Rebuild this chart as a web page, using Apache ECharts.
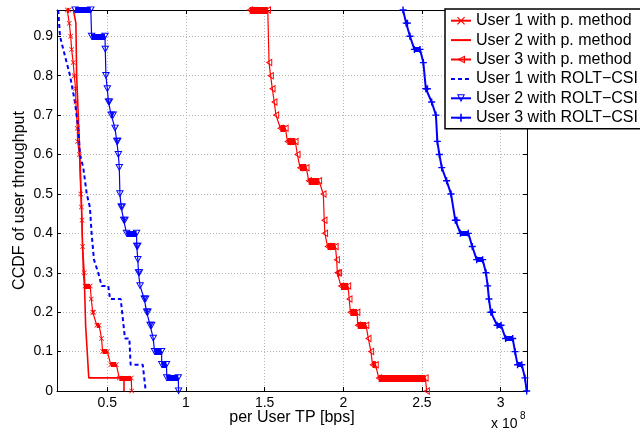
<!DOCTYPE html>
<html>
<head>
<meta charset="utf-8">
<script src="https://cdn.jsdelivr.net/npm/echarts@6/dist/echarts.min.js"></script>
<style>
html, body { margin: 0; padding: 0; background: #fff; }
#chart { width: 640px; height: 430px; }
</style>
</head>
<body>
<div id="chart"></div>
<script>
// throughput in units of 1e8 bps, CCDF value
const xTicks = [0.5, 1, 1.5, 2, 2.5, 3];
const seriesNames = [
    'User 1 with p. method',
    'User 2 with p. method',
    'User 3 with p. method',
    'User 1 with ROLT\u2212CSI',
    'User 2 with ROLT\u2212CSI',
    'User 3 with ROLT\u2212CSI'
];

const user1P = [
    [0.245, 0.9667], [0.256, 0.9667], [0.258, 0.9333], [0.267, 0.9], [0.273, 0.8667],
    [0.283, 0.8333], [0.290, 0.8], [0.298, 0.7667], [0.300, 0.7333], [0.309, 0.6667],
    [0.311, 0.6333], [0.322, 0.6], [0.331, 0.5], [0.335, 0.4667], [0.339, 0.4333],
    [0.343, 0.3667], [0.354, 0.3], [0.358, 0.2667], [0.391, 0.2667], [0.398, 0.2333],
    [0.407, 0.2], [0.413, 0.2], [0.433, 0.1667], [0.448, 0.1667], [0.463, 0.1333],
    [0.470, 0.1], [0.500, 0.1], [0.522, 0.0667], [0.557, 0.0667], [0.576, 0.0333],
    [0.652, 0.0333], [0.655, 0]
];
const user2P = [
    [0.284, 0.9667], [0.300, 0.9333], [0.305, 0.8], [0.315, 0.7], [0.325, 0.6],
    [0.334, 0.5], [0.340, 0.4], [0.348, 0.3], [0.355, 0.2667], [0.362, 0.1667],
    [0.382, 0.0333], [0.606, 0.0333], [0.606, 0]
];
const user3P = [
    [1.405, 0.9667], [1.520, 0.9667], [1.528, 0.8333], [1.538, 0.8], [1.549, 0.7667],
    [1.561, 0.7333], [1.572, 0.7], [1.600, 0.6667], [1.632, 0.6667], [1.645, 0.6333],
    [1.695, 0.6333], [1.708, 0.6], [1.725, 0.5667], [1.765, 0.5667], [1.780, 0.5333],
    [1.845, 0.5333], [1.873, 0.5], [1.879, 0.4333], [1.883, 0.4], [1.900, 0.3667],
    [1.950, 0.3667], [1.958, 0.3333], [1.962, 0.3], [1.972, 0.3], [1.985, 0.2667],
    [2.030, 0.2667], [2.038, 0.2333], [2.045, 0.2], [2.088, 0.2], [2.092, 0.1667],
    [2.145, 0.1667], [2.159, 0.1333], [2.176, 0.1], [2.186, 0.0667], [2.205, 0.0667],
    [2.225, 0.0333], [2.522, 0.0333], [2.530, 0]
];
const user1R = [
    [0.188, 0.9667], [0.199, 0.9], [0.220, 0.8667], [0.263, 0.8], [0.294, 0.7333],
    [0.315, 0.6667], [0.326, 0.6], [0.347, 0.5667], [0.369, 0.5], [0.389, 0.4667],
    [0.400, 0.4], [0.415, 0.3333], [0.442, 0.3], [0.464, 0.2667], [0.506, 0.2667],
    [0.517, 0.2333], [0.585, 0.2333], [0.612, 0.1333], [0.640, 0.1333], [0.648, 0.0667],
    [0.725, 0.0667], [0.744, 0]
];
const user2R = [
    [0.295, 0.9667], [0.395, 0.9667], [0.400, 0.9], [0.485, 0.9], [0.487, 0.8667],
    [0.491, 0.8], [0.500, 0.7667], [0.507, 0.7333], [0.513, 0.7333], [0.525, 0.7],
    [0.537, 0.7], [0.549, 0.6667], [0.560, 0.6333], [0.566, 0.6333], [0.570, 0.6],
    [0.576, 0.5667], [0.580, 0.5], [0.588, 0.4667], [0.594, 0.4667], [0.604, 0.4333],
    [0.612, 0.4333], [0.622, 0.4], [0.686, 0.4], [0.687, 0.3667], [0.693, 0.3667],
    [0.694, 0.3333], [0.698, 0.3], [0.704, 0.3], [0.708, 0.2667], [0.735, 0.2333],
    [0.743, 0.2333], [0.750, 0.2], [0.758, 0.2], [0.772, 0.1667], [0.782, 0.1667],
    [0.792, 0.1333], [0.800, 0.1], [0.845, 0.1], [0.846, 0.0667], [0.876, 0.0667],
    [0.878, 0.0333], [0.951, 0.0333], [0.953, 0]
];
const user3R = [
    [2.380, 0.9667], [2.400, 0.9333], [2.408, 0.9333], [2.424, 0.9], [2.452, 0.8667],
    [2.488, 0.8667], [2.509, 0.8333], [2.525, 0.7667], [2.535, 0.7667], [2.562, 0.7333],
    [2.589, 0.7], [2.598, 0.6333], [2.611, 0.6], [2.626, 0.5667], [2.657, 0.5333],
    [2.685, 0.5], [2.712, 0.4333], [2.722, 0.4333], [2.745, 0.4], [2.795, 0.4],
    [2.820, 0.3667], [2.848, 0.3333], [2.886, 0.3333], [2.907, 0.3], [2.918, 0.2667],
    [2.926, 0.2333], [2.938, 0.2], [2.948, 0.2], [2.978, 0.1667], [3.003, 0.1667],
    [3.032, 0.1333], [3.077, 0.1333], [3.092, 0.1], [3.108, 0.0667], [3.135, 0.0667],
    [3.155, 0.0333], [3.166, 0]
];

const FONT = '"Liberation Sans", Arial, Helvetica, sans-serif';
const RED = '#ff0000';
const BLUE = '#0000ff';

// matlab markers (triangles are outline rings so the line shows through)
const SYM_X = 'path://M1,0L5,4L9,0L10,1L6,5L10,9L9,10L5,6L1,10L0,9L4,5L0,1Z';
const SYM_PLUS = 'path://M4,0H6V4H10V6H6V10H4V6H0V4H4Z';
const SYM_LEFT = 'path://M0,5L8,0L8,10Z M2.27,5L6.8,7.84L6.8,2.16Z';
const SYM_DOWN = 'path://M0,0L10,0L5,9Z M2.04,1.2L5,6.53L7.96,1.2Z';

// horizontal steps of a marker curve: markers pile up there, drawn as a thick bar
function denseRuns(pts) {
    const runs = [];
    for (let i = 1; i < pts.length; i++) {
        if (pts[i][1] === pts[i - 1][1] && pts[i][1] > 0) {
            runs.push({ coords: [pts[i - 1], pts[i]] });
        }
    }
    return runs;
}

function curve(name, data, color, opts) {
    return {
        name: name,
        type: 'line',
        data: data,
        symbol: opts.symbol || 'none',
        symbolSize: opts.size || 6,
        symbolKeepAspect: true,
        showSymbol: !!opts.symbol,
        clip: true,
        lineStyle: { color: color, width: opts.width || 1.2, type: opts.dash ? [4, 3] : 'solid' },
        itemStyle: { color: color, borderWidth: 0 },
        emphasis: { disabled: true },
        z: 3
    };
}

function runBars(data, color, width) {
    return {
        type: 'lines',
        coordinateSystem: 'cartesian2d',
        polyline: false,
        silent: true,
        data: denseRuns(data),
        lineStyle: { color: color, width: width, opacity: 1, curveness: 0, cap: 'butt' },
        z: 3
    };
}

const gridLine = { show: true, lineStyle: { color: '#b4b4b4', width: 1, type: [1, 2] } };
const axisBlack = { show: true, onZero: false, lineStyle: { color: '#000', width: 1 } };

// plain curves get no marker in the legend
const legendData = seriesNames.map(function (n, i) {
    return (i === 1 || i === 3) ? { name: n, itemStyle: { opacity: 0 } } : { name: n };
});

const chart = echarts.init(document.getElementById('chart'));
chart.setOption({
    animation: false,
    backgroundColor: '#fff',
    grid: { left: 57, right: 113, top: 10, bottom: 39, containLabel: false, outerBoundsMode: 'none' },
    legend: {
        orient: 'vertical',
        left: 445,
        top: 9,
        data: legendData,
        itemWidth: 20,
        itemHeight: 10,
        itemGap: 3.4,
        padding: [3.7, 3, 3, 5],
        borderColor: '#000',
        borderWidth: 1.5,
        backgroundColor: '#fff',
        selectedMode: false,
        textStyle: { fontFamily: FONT, fontSize: 16, color: '#000', lineHeight: 16 }
    },
    xAxis: [{
        type: 'value',
        min: 0.18,
        max: 3.168,
        position: 'bottom',
        name: 'per User TP [bps]',
        nameLocation: 'middle',
        nameGap: 19,
        nameMoveOverlap: false,
        nameTextStyle: { fontFamily: FONT, fontSize: 16, color: '#000' },
        axisLine: axisBlack,
        axisTick: { show: true, inside: true, length: 4, customValues: xTicks, lineStyle: { color: '#000' } },
        axisLabel: { customValues: xTicks, margin: 5, fontFamily: FONT, fontSize: 14, color: '#000' },
        splitLine: gridLine
    }, {
        type: 'value',
        min: 0.18,
        max: 3.168,
        position: 'top',
        axisLine: axisBlack,
        axisTick: { show: true, inside: true, length: 4, customValues: xTicks, lineStyle: { color: '#000' } },
        axisLabel: { show: false },
        splitLine: { show: false }
    }],
    yAxis: [{
        type: 'value',
        min: 0,
        max: 0.9667,
        interval: 0.1,
        position: 'left',
        name: 'CCDF of user throughput',
        nameLocation: 'middle',
        nameGap: 29,
        nameMoveOverlap: false,
        nameTextStyle: { fontFamily: FONT, fontSize: 16, color: '#000' },
        axisLine: axisBlack,
        axisTick: { show: true, inside: true, length: 4, lineStyle: { color: '#000' } },
        axisLabel: { margin: 4, showMaxLabel: false, fontFamily: FONT, fontSize: 14, color: '#000' },
        splitLine: gridLine
    }, {
        type: 'value',
        min: 0,
        max: 0.9667,
        interval: 0.1,
        position: 'right',
        axisLine: axisBlack,
        axisTick: { show: true, inside: true, length: 4, lineStyle: { color: '#000' } },
        axisLabel: { show: false },
        splitLine: { show: false }
    }],
    graphic: [
        { type: 'text', left: 491, top: 417, style: { text: 'x 10', font: '14px ' + FONT, fill: '#000' } },
        { type: 'text', left: 520, top: 411, style: { text: '8', font: '10px ' + FONT, fill: '#000' } }
    ],
    series: [
        curve(seriesNames[0], user1P, RED, { symbol: SYM_X, size: 5, width: 1.2 }),
        runBars(user1P, RED, 5),
        curve(seriesNames[1], user2P, RED, { width: 1.6 }),
        curve(seriesNames[2], user3P, RED, { symbol: SYM_LEFT, size: 8, width: 1.2 }),
        runBars(user3P, RED, 7),
        curve(seriesNames[3], user1R, BLUE, { width: 2, dash: true }),
        curve(seriesNames[4], user2R, BLUE, { symbol: SYM_DOWN, size: 8, width: 1.2 }),
        runBars(user2R, BLUE, 6),
        curve(seriesNames[5], user3R, BLUE, { symbol: SYM_PLUS, size: 7, width: 2 }),
        runBars(user3R, BLUE, 5)
    ]
});
</script>
</body>
</html>
